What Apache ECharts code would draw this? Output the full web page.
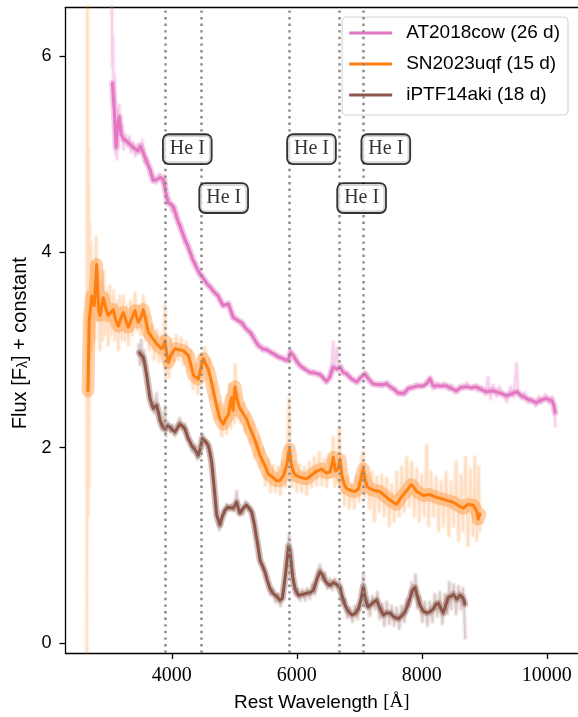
<!DOCTYPE html>
<html><head><meta charset="utf-8">
<script src="https://cdn.jsdelivr.net/npm/echarts/dist/echarts.min.js"></script>
<style>html,body{margin:0;padding:0;background:#fff}#c{width:578px;height:717px}</style>
</head><body><div id="c"></div>
<script>
// ---------------- data ----------------
const seriesNames = ['AT2018cow (26 d)', 'SN2023uqf (15 d)', 'iPTF14aki (18 d)'];
const seriesColors = ['#e377c2', '#ff7f0e', '#8c564b'];

const cowSmooth = [[3050,5.72],[3080,5.45],[3110,5.07],[3135,5.30],[3160,5.38],[3190,5.20],[3230,5.15],[3280,5.13],[3330,5.10],[3380,5.07],[3420,5.05],[3460,5.03],[3500,5.08],[3530,5.06],[3570,4.97],[3610,4.90],[3650,4.85],[3700,4.73],[3760,4.74],[3820,4.76],[3870,4.74],[3900,4.62],[3940,4.50],[3980,4.49],[4020,4.47],[4080,4.35],[4132,4.26],[4212,4.13],[4280,4.02],[4345,3.91],[4410,3.82],[4479,3.75],[4560,3.68],[4665,3.60],[4740,3.55],[4825,3.45],[4905,3.47],[4985,3.33],[5050,3.30],[5119,3.28],[5180,3.22],[5252,3.18],[5320,3.11],[5385,3.04],[5460,3.01],[5545,2.99],[5640,2.95],[5732,2.92],[5810,2.90],[5865,2.89],[5900,2.97],[5935,2.95],[6000,2.88],[6052,2.84],[6130,2.80],[6212,2.77],[6300,2.76],[6372,2.75],[6440,2.70],[6479,2.68],[6530,2.72],[6585,2.82],[6640,2.80],[6692,2.82],[6740,2.77],[6799,2.75],[6880,2.70],[6959,2.67],[7030,2.72],[7092,2.75],[7150,2.70],[7225,2.65],[7330,2.64],[7439,2.65],[7500,2.62],[7545,2.60],[7620,2.56],[7705,2.55],[7780,2.60],[7865,2.62],[7950,2.63],[8025,2.63],[8090,2.66],[8132,2.70],[8185,2.63],[8300,2.63],[8399,2.63],[8480,2.60],[8559,2.58],[8640,2.62],[8719,2.62],[8800,2.61],[8879,2.62],[8960,2.59],[9039,2.57],[9120,2.58],[9199,2.57],[9280,2.55],[9359,2.53],[9440,2.55],[9519,2.57],[9600,2.53],[9679,2.50],[9760,2.48],[9839,2.46],[9920,2.49],[9999,2.50],[10079,2.48],[10110,2.44],[10135,2.36]];

const cowRaw = [[3040,6.6],[3050,5.9],[3060,6.2],[3070,5.5],[3085,5.8],[3100,5.0],[3110,5.2],[3125,4.95],[3140,5.45],[3160,5.5],[3175,5.2],[3200,5.3],[3230,5.05],[3260,5.2],[3290,5.08],[3320,5.18],[3350,5.02],[3380,5.12],[3420,4.98],[3460,5.1],[3500,5.02],[3530,5.14],[3570,4.92],[3610,4.95],[3650,4.8],[3700,4.78],[3750,4.7],[3800,4.8],[3850,4.7],[3880,4.78],[3920,4.55],[3960,4.55],[4000,4.42],[4050,4.45],[4100,4.3],[4150,4.28],[4200,4.1],[4260,4.08],[4320,3.93],[4380,3.88],[4440,3.76],[4500,3.76],[4560,3.66],[4620,3.65],[4680,3.57],[4740,3.56],[4800,3.46],[4860,3.46],[4920,3.44],[4980,3.32],[5040,3.33],[5100,3.26],[5160,3.25],[5220,3.18],[5280,3.17],[5340,3.08],[5400,3.05],[5460,2.99],[5520,3.02],[5580,2.96],[5640,2.97],[5700,2.92],[5760,2.93],[5820,2.88],[5870,2.92],[5900,3.0],[5950,2.93],[6010,2.88],[6070,2.82],[6130,2.81],[6200,2.76],[6270,2.78],[6340,2.74],[6410,2.73],[6470,2.66],[6520,2.72],[6560,2.86],[6585,3.08],[6600,2.82],[6640,3.02],[6660,2.8],[6700,2.84],[6750,2.76],[6800,2.77],[6860,2.71],[6920,2.68],[6980,2.68],[7040,2.73],[7090,2.77],[7140,2.71],[7200,2.65],[7260,2.64],[7320,2.66],[7380,2.63],[7440,2.67],[7500,2.6],[7560,2.61],[7620,2.54],[7680,2.57],[7740,2.55],[7800,2.62],[7860,2.6],[7920,2.65],[7980,2.62],[8040,2.64],[8100,2.68],[8140,2.72],[8190,2.6],[8250,2.66],[8300,2.62],[8360,2.66],[8420,2.6],[8480,2.64],[8540,2.56],[8600,2.62],[8660,2.6],[8720,2.66],[8780,2.6],[8840,2.64],[8900,2.58],[8960,2.62],[9020,2.54],[9060,2.72],[9100,2.5],[9140,2.64],[9200,2.52],[9240,2.62],[9300,2.55],[9360,2.47],[9420,2.62],[9470,2.52],[9519,2.86],[9540,2.55],[9600,2.5],[9650,2.56],[9700,2.46],[9760,2.5],[9820,2.42],[9870,2.52],[9920,2.46],[9980,2.54],[10040,2.45],[10090,2.52],[10120,2.4],[10140,2.22]];

const uqfSmooth = [[2660,2.58],[2680,3.3],[2720,3.55],[2760,3.45],[2799,3.87],[2830,3.4],[2852,3.35],[2880,3.45],[2905,3.53],[2945,3.42],[2985,3.35],[3025,3.38],[3065,3.41],[3105,3.30],[3145,3.24],[3185,3.32],[3225,3.38],[3265,3.30],[3305,3.23],[3360,3.32],[3412,3.40],[3440,3.33],[3465,3.28],[3505,3.33],[3545,3.41],[3585,3.30],[3625,3.18],[3690,3.12],[3759,3.06],[3839,3.01],[3870,3.05],[3892,3.09],[3915,2.98],[3945,2.87],[3990,2.95],[4052,3.01],[4120,3.0],[4185,2.99],[4265,2.94],[4310,2.84],[4345,2.74],[4425,2.70],[4480,2.85],[4505,2.91],[4545,2.85],[4585,2.80],[4625,2.70],[4665,2.58],[4720,2.42],[4772,2.29],[4825,2.24],[4870,2.30],[4905,2.33],[4935,2.45],[4959,2.51],[4980,2.38],[5012,2.62],[5050,2.48],[5092,2.40],[5150,2.34],[5199,2.29],[5250,2.20],[5305,2.12],[5360,2.02],[5412,1.92],[5480,1.83],[5545,1.73],[5610,1.70],[5679,1.66],[5730,1.66],[5790,1.72],[5840,1.82],[5870,1.95],[5885,1.98],[5910,1.84],[5950,1.74],[6000,1.71],[6080,1.69],[6159,1.68],[6240,1.72],[6320,1.76],[6399,1.78],[6470,1.74],[6532,1.75],[6560,1.82],[6585,1.90],[6620,1.76],[6660,1.78],[6692,1.88],[6720,1.72],[6760,1.62],[6799,1.58],[6870,1.56],[6932,1.55],[6990,1.58],[7040,1.72],[7065,1.78],[7095,1.66],[7130,1.60],[7172,1.58],[7250,1.56],[7332,1.55],[7420,1.50],[7520,1.45],[7599,1.42],[7680,1.50],[7760,1.56],[7830,1.62],[7865,1.60],[7920,1.55],[8025,1.51],[8120,1.52],[8200,1.50],[8292,1.48],[8400,1.46],[8505,1.44],[8580,1.41],[8665,1.38],[8740,1.42],[8825,1.41],[8880,1.35],[8905,1.27],[8930,1.32]];

const uqfRaw = [[2640,-0.1],[2650,6.6],[2660,1.3],[2668,5.05],[2675,1.6],[2685,4.3],[2695,2.9],[2705,4.1],[2720,3.0],[2740,3.9],[2760,3.1],[2790,4.15],[2810,3.3],[2830,3.8],[2850,3.0],[2870,3.7],[2890,3.1],[2910,3.8],[2935,3.15],[2960,3.6],[2985,3.05],[3010,3.65],[3035,3.15],[3065,3.6],[3090,3.1],[3120,3.5],[3145,3.0],[3170,3.55],[3200,3.1],[3225,3.55],[3250,3.1],[3280,3.45],[3305,3.05],[3340,3.5],[3370,3.15],[3412,3.58],[3440,3.2],[3470,3.45],[3500,3.15],[3545,3.55],[3580,3.1],[3610,3.35],[3640,3.0],[3680,3.25],[3720,2.9],[3760,3.2],[3800,2.88],[3840,3.15],[3870,2.95],[3892,3.45],[3905,2.7],[3930,2.95],[3950,2.72],[3990,3.1],[4030,2.88],[4070,3.15],[4110,2.9],[4150,3.12],[4190,2.85],[4230,3.08],[4270,2.8],[4300,3.0],[4340,2.6],[4380,2.85],[4420,2.55],[4460,2.95],[4500,2.75],[4530,3.02],[4560,2.7],[4600,2.9],[4640,2.5],[4680,2.65],[4720,2.3],[4760,2.45],[4800,2.12],[4840,2.4],[4880,2.15],[4920,2.65],[4950,2.2],[4975,2.6],[5000,2.25],[5015,2.85],[5040,2.3],[5070,2.55],[5100,2.25],[5140,2.45],[5180,2.15],[5220,2.35],[5260,2.05],[5300,2.25],[5340,1.92],[5380,2.1],[5420,1.8],[5460,1.98],[5500,1.62],[5540,1.88],[5580,1.55],[5620,1.82],[5660,1.55],[5700,1.8],[5740,1.52],[5780,1.85],[5820,1.6],[5860,2.1],[5876,2.5],[5895,1.9],[5930,1.6],[5960,1.85],[6000,1.55],[6040,1.82],[6080,1.55],[6120,1.8],[6160,1.52],[6200,1.85],[6240,1.6],[6280,1.9],[6320,1.62],[6360,1.95],[6400,1.62],[6440,1.88],[6480,1.6],[6520,1.9],[6560,1.7],[6585,2.1],[6610,1.6],[6650,1.9],[6685,2.2],[6700,1.65],[6730,1.78],[6760,1.42],[6800,1.7],[6840,1.38],[6880,1.62],[6920,1.38],[6960,1.7],[7000,1.45],[7040,1.9],[7065,1.95],[7090,1.5],[7130,1.72],[7170,1.38],[7200,1.75],[7240,1.25],[7280,1.7],[7320,1.35],[7360,1.72],[7400,1.3],[7440,1.68],[7480,1.2],[7520,1.62],[7560,1.25],[7600,1.75],[7640,1.3],[7680,1.8],[7720,1.35],[7760,1.9],[7800,1.4],[7840,1.85],[7880,1.3],[7920,1.78],[7960,1.25],[8000,1.72],[8040,1.3],[8080,2.02],[8110,1.2],[8150,1.75],[8190,1.3],[8230,1.7],[8270,1.15],[8310,1.65],[8350,1.2],[8390,1.75],[8430,1.1],[8470,1.65],[8510,1.2],[8550,1.85],[8590,1.05],[8630,1.72],[8660,1.15],[8700,1.9],[8740,1.0],[8780,1.78],[8820,1.1],[8850,1.9],[8880,1.05],[8910,1.8],[8930,1.15]];

const akiSmooth = [[3480,2.97],[3500,2.96],[3545,2.92],[3570,2.85],[3599,2.74],[3625,2.62],[3652,2.50],[3705,2.40],[3759,2.43],[3790,2.35],[3812,2.28],[3850,2.22],[3892,2.19],[3930,2.22],[3972,2.21],[4010,2.18],[4052,2.16],[4090,2.2],[4132,2.24],[4170,2.22],[4212,2.19],[4260,2.10],[4319,2.02],[4370,1.98],[4425,1.92],[4460,2.0],[4490,2.09],[4530,2.07],[4585,2.02],[4615,1.94],[4639,1.85],[4680,1.58],[4719,1.31],[4772,1.21],[4810,1.30],[4852,1.36],[4900,1.39],[4932,1.39],[4985,1.38],[5039,1.44],[5065,1.38],[5092,1.33],[5140,1.38],[5199,1.41],[5240,1.38],[5279,1.34],[5320,1.22],[5359,1.07],[5412,0.85],[5492,0.73],[5530,0.64],[5572,0.56],[5620,0.51],[5679,0.48],[5730,0.44],[5770,0.46],[5812,0.66],[5850,0.88],[5870,0.99],[5890,0.95],[5935,0.68],[5972,0.56],[6025,0.49],[6100,0.50],[6159,0.51],[6220,0.52],[6265,0.54],[6320,0.65],[6372,0.73],[6410,0.70],[6452,0.64],[6490,0.61],[6532,0.59],[6585,0.62],[6640,0.60],[6692,0.57],[6730,0.47],[6772,0.39],[6820,0.33],[6879,0.29],[6930,0.30],[6985,0.35],[7030,0.45],[7065,0.58],[7100,0.45],[7140,0.37],[7172,0.36],[7230,0.42],[7279,0.44],[7330,0.36],[7385,0.29],[7440,0.31],[7492,0.31],[7550,0.27],[7625,0.25],[7680,0.28],[7732,0.32],[7770,0.38],[7812,0.46],[7850,0.54],[7892,0.57],[7930,0.48],[7972,0.39],[8020,0.33],[8079,0.31],[8130,0.32],[8185,0.35],[8230,0.40],[8265,0.41],[8310,0.35],[8345,0.31],[8390,0.40],[8425,0.47],[8470,0.48],[8505,0.50],[8560,0.45],[8612,0.49],[8650,0.47],[8676,0.44],[8690,0.40]];

const akiRaw = [[3470,3.05],[3490,2.85],[3510,3.1],[3530,2.88],[3550,3.0],[3575,2.8],[3600,2.78],[3625,2.6],[3650,2.55],[3675,2.42],[3700,2.45],[3725,2.35],[3755,2.55],[3785,2.33],[3810,2.32],[3840,2.18],[3870,2.25],[3892,2.42],[3905,2.12],[3940,2.26],[3975,2.16],[4010,2.23],[4050,2.12],[4090,2.24],[4130,2.3],[4170,2.18],[4210,2.24],[4250,2.08],[4290,2.08],[4330,1.96],[4370,2.03],[4410,1.88],[4450,1.98],[4490,2.14],[4530,2.03],[4570,2.06],[4610,1.9],[4650,1.78],[4690,1.5],[4720,1.3],[4760,1.16],[4800,1.28],[4840,1.32],[4880,1.42],[4920,1.36],[4960,1.42],[5000,1.35],[5040,1.55],[5070,1.32],[5100,1.36],[5140,1.32],[5180,1.45],[5220,1.36],[5260,1.38],[5300,1.28],[5340,1.1],[5380,1.02],[5420,0.82],[5460,0.8],[5500,0.68],[5540,0.62],[5580,0.5],[5620,0.55],[5660,0.42],[5700,0.5],[5740,0.38],[5780,0.5],[5820,0.72],[5860,1.0],[5876,1.1],[5895,0.92],[5930,0.72],[5970,0.5],[6010,0.56],[6050,0.44],[6090,0.55],[6130,0.44],[6170,0.56],[6210,0.46],[6250,0.6],[6290,0.5],[6330,0.72],[6370,0.8],[6410,0.65],[6450,0.72],[6490,0.56],[6530,0.66],[6570,0.55],[6610,0.66],[6650,0.55],[6690,0.62],[6730,0.4],[6770,0.45],[6810,0.26],[6850,0.36],[6890,0.22],[6930,0.38],[6970,0.25],[7010,0.42],[7050,0.48],[7065,0.7],[7090,0.38],[7130,0.46],[7170,0.28],[7210,0.48],[7250,0.35],[7290,0.52],[7330,0.25],[7370,0.4],[7400,0.18],[7440,0.42],[7480,0.2],[7520,0.38],[7560,0.18],[7600,0.36],[7640,0.15],[7680,0.38],[7720,0.22],[7760,0.45],[7800,0.38],[7840,0.62],[7880,0.48],[7900,0.7],[7930,0.36],[7970,0.48],[8010,0.22],[8050,0.42],[8090,0.18],[8130,0.42],[8170,0.22],[8210,0.5],[8250,0.28],[8290,0.52],[8330,0.2],[8370,0.5],[8410,0.3],[8440,0.62],[8470,0.35],[8510,0.6],[8550,0.3],[8590,0.58],[8630,0.35],[8660,0.56],[8680,0.3],[8695,0.05]];

const heLines = [3889, 4471, 5876, 6678, 7065];
const heLabelY = [5.05, 4.55, 5.05, 4.55, 5.05];
const heText = 'He I';

const xTicks = [4000, 6000, 8000, 10000];
const yTicks = [0, 2, 4, 6];

// ---------------- chart ----------------
const chart = echarts.init(document.getElementById('c'), null, {renderer: 'canvas'});
const SANS = 'Liberation Sans';
const SERIF = 'Liberation Serif';

function layer(name, data, color, width, opacity, z) {
  return {type: 'line', name: name, data: data, xAxisIndex: 0, yAxisIndex: 0,
    symbol: 'none', showSymbol: false, clip: true, silent: true, z: z,
    lineStyle: {color: color, width: width, opacity: opacity, join: 'round', cap: 'round'},
    itemStyle: {color: color}};
}

const smooths = [cowSmooth, uqfSmooth, akiSmooth];
const raws = [cowRaw, uqfRaw, akiRaw];
const haloWidth = [7, 13, 7];
const rawOpacity = [[0.12, 0.25], [0.1, 0.16], [0.1, 0.22]];
const series = [];
for (let i = 0; i < 3; i++) {
  series.push(layer(seriesNames[i] + ' raw-a', raws[i], seriesColors[i], 5, rawOpacity[i][0], 2));
  series.push(layer(seriesNames[i] + ' raw-b', raws[i], seriesColors[i], 2, rawOpacity[i][1], 3));
  series.push(layer(seriesNames[i] + ' halo', smooths[i], seriesColors[i], haloWidth[i], 0.35, 4));
}
for (let i = 0; i < 3; i++) {
  series.push(layer(seriesNames[i], smooths[i], seriesColors[i], 3, 1, 5));
}
// He I markers: dotted lines + boxed labels
series.push({
  type: 'scatter', name: 'HeI', silent: true, z: 10,
  symbolSize: 0,
  data: heLines.map((w, i) => [w, heLabelY[i]]),
  label: {show: true, position: 'right', distance: -1, formatter: heText,
    fontFamily: SERIF, fontSize: 20, color: '#000',
    backgroundColor: '#fff', borderColor: '#000', borderWidth: 1.8, borderRadius: 5,
    padding: [4, 6, 4, 6], lineHeight: 20},
  markLine: {silent: true, symbol: ['none', 'none'], label: {show: false},
    lineStyle: {color: '#8c8c8c', width: 2.5, type: [2.4, 4.2], opacity: 1},
    emphasis: {disabled: true},
    data: heLines.map(w => ({xAxis: w})), z: 6}
});

const option = {
  animation: false,
  backgroundColor: '#fff',
  grid: {left: 65.5, right: 0, top: 7.3, bottom: 62.5, containLabel: false},
  legend: {
    data: seriesNames, orient: 'vertical', right: 10, top: 17,
    icon: 'rect', itemWidth: 43, itemHeight: 3, itemGap: 11,
    padding: [6, 8, 10, 7],
    backgroundColor: 'rgba(255,255,255,0.85)', borderColor: '#d2d2d2', borderWidth: 1, borderRadius: 4,
    textStyle: {fontFamily: SANS, fontSize: 19, color: '#000', lineHeight: 20, padding: [0, 0, 0, 9]},
    selectedMode: false
  },
  xAxis: [{
    type: 'value', min: 2300, max: 10500,
    axisLine: {show: true, onZero: false, lineStyle: {color: '#000', width: 1.3}},
    axisTick: {show: true, customValues: xTicks, length: 6, lineStyle: {color: '#000', width: 1.3}},
    axisLabel: {show: true, customValues: xTicks, formatter: v => String(v),
      fontFamily: SERIF, fontSize: 20, color: '#000', margin: 13},
    splitLine: {show: false},
    name: 'Rest Wavelength {s|[Å]}', nameLocation: 'middle', nameGap: 40,
    nameTextStyle: {fontFamily: SANS, fontSize: 19, color: '#000',
      rich: {s: {fontFamily: SERIF, fontSize: 19, color: '#000'}}}
  }, {
    type: 'value', position: 'top', min: 2300, max: 10500,
    axisLine: {show: true, onZero: false, lineStyle: {color: '#000', width: 1.3}},
    axisTick: {show: false}, axisLabel: {show: false}, splitLine: {show: false}
  }],
  yAxis: [{
    type: 'value', min: -0.1, max: 6.5,
    axisLine: {show: true, onZero: false, lineStyle: {color: '#000', width: 1.3}},
    axisTick: {show: true, customValues: yTicks, length: 6, lineStyle: {color: '#000', width: 1.3}},
    axisLabel: {show: true, customValues: yTicks, fontFamily: SANS, fontSize: 18, color: '#000', margin: 14},
    splitLine: {show: false},
    name: 'Flux [F{sub|λ}] + constant', nameLocation: 'middle', nameGap: 33, nameRotate: 90,
    nameTextStyle: {fontFamily: SANS, fontSize: 20, color: '#000', padding: [0, 26, 0, 0],
      rich: {sub: {fontFamily: SANS, fontSize: 14, color: '#000', verticalAlign: 'bottom', padding: [6, 0, 0, 0]}}}
  }],
  series: series
};
chart.setOption(option);
</script></body></html>
